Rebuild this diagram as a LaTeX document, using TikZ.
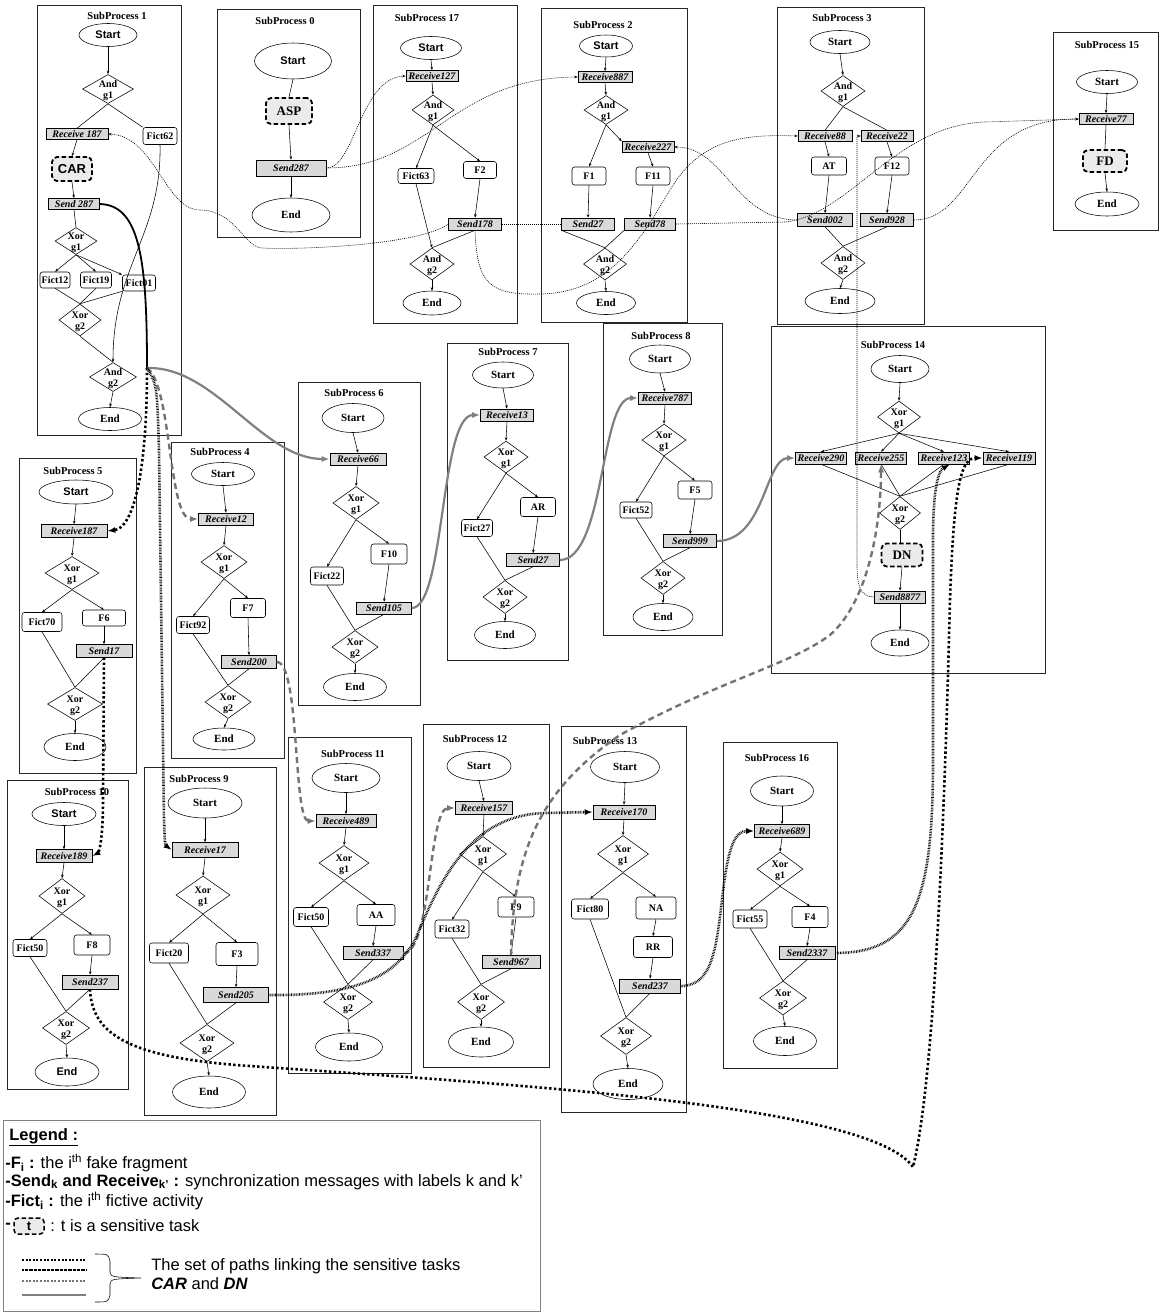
\documentclass[tikz,border=0pt]{standalone}
\usepackage{fontspec}
\setmainfont{Liberation Serif}
\setsansfont{Liberation Sans}
\usetikzlibrary{shapes.geometric,arrows.meta}

\tikzset{
  spbox/.style={draw=black!85,line width=0.7pt},
  sptitle/.style={font=\bfseries\fontsize{10.5}{12}\selectfont,inner sep=0pt},
  sz/.style 2 args={minimum width=#1pt,minimum height=#2pt},
  ev/.style={ellipse,draw,inner sep=0pt,fill=white,font=\bfseries\fontsize{11}{12}\selectfont},
  evsf/.style={ev,font=\sffamily\bfseries\fontsize{11}{12}\selectfont},
  gw/.style={diamond,draw,inner sep=0pt,fill=white},
  gwtxt/.style={align=center,inner sep=0pt,yshift=-2pt,font=\bfseries\fontsize{10}{11}\selectfont},
  task/.style={draw,rounded corners=2.5pt,inner sep=0pt,fill=white,font=\bfseries\fontsize{10}{12}\selectfont},
  msg/.style={draw,fill=black!15,inner sep=0pt,font=\bfseries\itshape\fontsize{10}{12}\selectfont},
  sens/.style={draw,line width=1.8pt,dash pattern=on 4.5pt off 2.5pt,rounded corners=5pt,fill=black!8,inner sep=0pt,font=\bfseries\fontsize{13}{14}\selectfont},
  msgline/.style={line width=0.6pt,dash pattern=on 1pt off 1pt},
  carline/.style={line width=1.8pt},
  greypath/.style={line width=2.2pt,draw=black!50,-{Latex[length=8pt,width=6pt]}},
  dashpath/.style={line width=2.4pt,draw=black!55,dash pattern=on 6pt off 4pt,-{Latex[length=8pt,width=6pt]}},
  dotpath/.style={line width=2.6pt,dash pattern=on 2.4pt off 2.4pt,-{Latex[length=8pt,width=6pt]}},
  railpath/.style={line width=2.6pt,dash pattern=on 0.7pt off 0.9pt,-{Latex[length=8pt,width=6pt]}},
  legtxt/.style={font=\sffamily\fontsize{16.5}{18}\selectfont,anchor=west,inner sep=0pt}
}

\begin{document}
\begin{tikzpicture}[x=1pt,y=-1pt,line width=0.55pt,>={Stealth[length=3.5pt,width=2.6pt]}]
  \useasboundingbox (0,0) rectangle (1160,1312);

  % SubProcess 1
  \draw [spbox] (37,5) rectangle (181,435);
  \node [sptitle] (t1) at (117,16) {SubProcess 1};
  \node [evsf, sz={58}{23}] (p1s) at (108,35) {Start};
  \node [gw, sz={51}{29}, label={[gwtxt]center:And\\g1}] (p1a1) at (108,89) {};
  \node [msg, sz={62}{11}] (p1r) at (77,134) {Receive 187};
  \node [task, sz={34}{17}] (p1f62) at (160,136) {Fict62};
  \node [sens, sz={40}{24}, font=\sffamily\bfseries\fontsize{13}{14}\selectfont] (p1car) at (72,169) {CAR};
  \node [msg, sz={51}{11}] (p1snd) at (74,204) {Send 287};
  \node [gw, sz={42}{27}, label={[gwtxt]center:Xor\\g1}] (p1x1) at (76,241) {};
  \node [task, sz={30}{16}] (p1f12) at (55,280) {Fict12};
  \node [task, sz={31}{16}] (p1f19) at (96,280) {Fict19};
  \node [task, sz={33}{16}] (p1f01) at (139,283) {Fict01};
  \node [gw, sz={42}{32}, label={[gwtxt]center:Xor\\g2}] (p1x2) at (80,320) {};
  \node [gw, sz={47}{29}, label={[gwtxt]center:And\\g2}] (p1a2) at (113,377) {};
  \node [ev, sz={63}{23}] (p1e) at (110,419) {End};

  \draw [->] (p1s.south) -- (p1a1.north);
  \draw (p1a1.south) -- (p1r.north);
  \draw (p1a1.south) -- (p1f62.north west);
  \draw [->] (p1r.south) -- (p1car.north);
  \draw [->] (p1car.south) -- (p1snd.north);
  \draw (p1snd.south) -- (p1x1.north);
  \draw [->] (p1x1.south) -- (p1f12.north);
  \draw [->] (p1x1.south) -- (p1f19.north);
  \draw [->] (p1x1.south) -- (p1f01.north west);
  \draw (p1f12.south) -- (p1x2.north);
  \draw (p1f19.south) -- (p1x2.north);
  \draw (p1f01.south west) -- (p1x2.north);
  \draw (p1x2.south) -- (p1a2.north);
  \draw [->] (p1f62.south) .. controls (162,235) and (113,265) .. (p1a2.north);
  \draw [->] (p1a2.south) -- (p1e.north);

  % SubProcess 0
  \draw [spbox] (217,9) rectangle (360,237);
  \node [sptitle] (t0) at (285,21) {SubProcess 0};
  \node [evsf, sz={77}{36}] (p0s) at (293,61) {Start};
  \node [sens, sz={46}{26}] (p0asp) at (289,111) {ASP};
  \node [msg, sz={70}{16}] (p0snd) at (291,168) {Send287};
  \node [ev, sz={78}{34}] (p0e) at (291,215) {End};

  \draw (p0s.south) -- (p0asp.north);
  \draw [->] (p0asp.south) -- (p0snd.north);
  \draw [->] (p0snd.south) -- (p0e.north);

  % SubProcess 17
  \draw [spbox] (373,5) rectangle (517,323);
  \node [sptitle] (t17) at (427,18) {SubProcess 17};
  \node [evsf, sz={61}{23}] (p17s) at (431,48) {Start};
  \node [msg, sz={52}{11}] (p17r) at (432,76) {Receive127};
  \node [gw, sz={42}{30}, label={[gwtxt]center:And\\g1}] (p17a1) at (433,110) {};
  \node [task, sz={36}{15}] (p17f63) at (416,176) {Fict63};
  \node [task, sz={33}{17}] (p17f2) at (480,170) {F2};
  \node [msg, sz={53}{12}] (p17snd) at (475,224) {Send178};
  \node [gw, sz={44}{32}, label={[gwtxt]center:And\\g2}] (p17a2) at (432,264) {};
  \node [ev, sz={58}{24}] (p17e) at (432,303) {End};

  \draw [->] (p17s.south) -- (p17r.north);
  \draw [->] (p17r.south) -- (p17a1.north);
  \draw [->] (p17a1.south) -- (p17f63.north);
  \draw [->] (p17a1.south) -- (p17f2.north);
  \draw [->] (p17f2.south) -- (p17snd.north);
  \draw [->] (p17f63.south) -- (p17a2.north);
  \draw (p17snd.south) -- (p17a2.north);
  \draw [->] (p17a2.south) -- (p17e.north);

  % SubProcess 2
  \draw [spbox] (541,8) rectangle (687,322);
  \node [sptitle] (t2) at (603,25) {SubProcess 2};
  \node [evsf, sz={53}{22}] (p2s) at (606,46) {Start};
  \node [msg, sz={54}{11}] (p2r) at (605,77) {Receive887};
  \node [gw, sz={44}{29}, label={[gwtxt]center:And\\g1}] (p2a1) at (606,110) {};
  \node [msg, sz={52}{11}] (p2r227) at (648,147) {Receive227};
  \node [task, sz={34}{18}] (p2f1) at (589,176) {F1};
  \node [task, sz={34}{18}] (p2f11) at (653,176) {F11};
  \node [msg, sz={53}{12}] (p2s27) at (588,224) {Send27};
  \node [msg, sz={51}{12}] (p2s78) at (650,224) {Send78};
  \node [gw, sz={43}{32}, label={[gwtxt]center:And\\g2}] (p2a2) at (605,264) {};
  \node [ev, sz={59}{23}] (p2e) at (606,303) {End};

  \draw [->] (p2s.south) -- (p2r.north);
  \draw [->] (p2r.south) -- (p2a1.north);
  \draw [->] (p2a1.south) -- (p2f1.north);
  \draw [->] (p2a1.south) -- (p2r227.north west);
  \draw [->] (p2r227.south) -- (p2f11.north);
  \draw [->] (p2f1.south) -- (p2s27.north);
  \draw [->] (p2f11.south) -- (p2s78.north);
  \draw (p2s27.south west) -- (p2a2.north);
  \draw (p2s78.south west) -- (p2a2.north);
  \draw [->] (p2a2.south) -- (p2e.north);

  % SubProcess 3
  \draw [spbox] (777,7) rectangle (924,324);
  \node [sptitle] (t3) at (842,18) {SubProcess 3};
  \node [ev, sz={60}{23}] (p3s) at (840,42) {Start};
  \node [gw, sz={44}{31}, label={[gwtxt]center:And\\g1}] (p3a1) at (843,91) {};
  \node [msg, sz={54}{11}] (p3r88) at (825,136) {Receive88};
  \node [msg, sz={52}{11}] (p3r22) at (887,136) {Receive22};
  \node [task, sz={35}{18}] (p3at) at (829,166) {AT};
  \node [task, sz={34}{18}] (p3f12) at (892,166) {F12};
  \node [msg, sz={55}{13}] (p3s002) at (825,220) {Send002};
  \node [msg, sz={53}{13}] (p3s928) at (887,220) {Send928};
  \node [gw, sz={44}{33}, label={[gwtxt]center:And\\g2}] (p3a2) at (843,263) {};
  \node [ev, sz={70}{25}] (p3e) at (840,301) {End};

  \draw [->] (p3s.south) -- (p3a1.north);
  \draw (p3a1.south) -- (p3r88.north);
  \draw (p3a1.south) -- (p3r22.north);
  \draw [->] (p3r88.south) -- (p3at.north);
  \draw [->] (p3r22.south) -- (p3f12.north);
  \draw [->] (p3at.south) -- (p3s002.north);
  \draw [->] (p3f12.south) -- (p3s928.north);
  \draw (p3s002.south) -- (p3a2.north);
  \draw (p3s928.south) -- (p3a2.north);
  \draw [->] (p3a2.south) -- (p3e.north);

  % SubProcess 15
  \draw [spbox] (1053,32) rectangle (1158,230);
  \node [sptitle] (t15) at (1107,45) {SubProcess 15};
  \node [ev, sz={61}{23}] (p15s) at (1107,82) {Start};
  \node [msg, sz={54}{11}] (p15r) at (1106,119) {Receive77};
  \node [sens, sz={44}{22}] (p15fd) at (1105,161) {FD};
  \node [ev, sz={64}{24}] (p15e) at (1107,204) {End};

  \draw [->] (p15s.south) -- (p15r.north);
  \draw (p15r.south) -- (p15fd.north);
  \draw [->] (p15fd.south) -- (p15e.north);

  % SubProcess 5
  \draw [spbox] (19,458) rectangle (136,773);
  \node [sptitle] (t5) at (73,471) {SubProcess 5};
  \node [evsf, sz={74}{24}] (p5s) at (76,492) {Start};
  \node [msg, sz={66}{13}] (p5r) at (74,531) {Receive187};
  \node [gw, sz={54}{33}, label={[gwtxt]center:Xor\\g1}] (p5x1) at (72,573) {};
  \node [task, sz={40}{19}] (p5f70) at (42,622) {Fict70};
  \node [task, sz={43}{16}] (p5f6) at (104,618) {F6};
  \node [msg, sz={56}{13}] (p5snd) at (104,651) {Send17};
  \node [gw, sz={55}{33}, label={[gwtxt]center:Xor\\g2}] (p5x2) at (75,704) {};
  \node [ev, sz={62}{27}] (p5e) at (75,747) {End};

  \draw [->] (p5s.south) -- (p5r.north);
  \draw [->] (p5r.south) -- (p5x1.north);
  \draw [->] (p5x1.south) -- (p5f70.north);
  \draw [->] (p5x1.south) -- (p5f6.north);
  \draw [->] (p5f6.south) -- (p5snd.north);
  \draw (p5f70.south) -- (p5x2.north);
  \draw (p5snd.south) -- (p5x2.north);
  \draw [->] (p5x2.south) -- (p5e.north);

  % SubProcess 4
  \draw [spbox] (171,442) rectangle (284,758);
  \node [sptitle] (t4) at (220,452) {SubProcess 4};
  \node [ev, sz={63}{23}] (p4s) at (223,474) {Start};
  \node [msg, sz={55}{12}] (p4r) at (226,519) {Receive12};
  \node [gw, sz={46}{33}, label={[gwtxt]center:Xor\\g1}] (p4x1) at (224,562) {};
  \node [task, sz={33}{17}] (p4f92) at (193,625) {Fict92};
  \node [task, sz={35}{19}] (p4f7) at (248,608) {F7};
  \node [msg, sz={55}{13}] (p4snd) at (249,662) {Send200};
  \node [gw, sz={46}{33}, label={[gwtxt]center:Xor\\g2}] (p4x2) at (228,702) {};
  \node [ev, sz={62}{22}] (p4e) at (224,739) {End};

  \draw [->] (p4s.south) -- (p4r.north);
  \draw [->] (p4r.south) -- (p4x1.north);
  \draw [->] (p4x1.south) -- (p4f92.north);
  \draw [->] (p4x1.south) -- (p4f7.north);
  \draw [->] (p4f7.south) -- (p4snd.north);
  \draw (p4f92.south) -- (p4x2.north);
  \draw (p4snd.south) -- (p4x2.north);
  \draw [->] (p4x2.south) -- (p4e.north);

  % SubProcess 6
  \draw [spbox] (298,382) rectangle (420,705);
  \node [sptitle] (t6) at (354,393) {SubProcess 6};
  \node [ev, sz={62}{29}] (p6s) at (353,418) {Start};
  \node [msg, sz={56}{12}] (p6r) at (358,459) {Receive66};
  \node [gw, sz={46}{33}, label={[gwtxt]center:Xor\\g1}] (p6x1) at (356,503) {};
  \node [task, sz={36}{20}] (p6f10) at (389,554) {F10};
  \node [task, sz={33}{18}] (p6f22) at (327,576) {Fict22};
  \node [msg, sz={55}{12}] (p6snd) at (384,608) {Send105};
  \node [gw, sz={46}{33}, label={[gwtxt]center:Xor\\g2}] (p6x2) at (355,647) {};
  \node [ev, sz={63}{27}] (p6e) at (355,687) {End};

  \draw [->] (p6s.south) -- (p6r.north);
  \draw [->] (p6r.south) -- (p6x1.north);
  \draw [->] (p6x1.south) -- (p6f22.north);
  \draw [->] (p6x1.south) -- (p6f10.north);
  \draw [->] (p6f10.south) -- (p6snd.north);
  \draw (p6f22.south) -- (p6x2.north);
  \draw (p6snd.south) -- (p6x2.north);
  \draw [->] (p6x2.south) -- (p6e.north);

  % SubProcess 7
  \draw [spbox] (447,343) rectangle (568,660);
  \node [sptitle] (t7) at (508,352) {SubProcess 7};
  \node [ev, sz={61}{26}] (p7s) at (503,375) {Start};
  \node [msg, sz={53}{12}] (p7r) at (507,415) {Receive13};
  \node [gw, sz={44}{32}, label={[gwtxt]center:Xor\\g1}] (p7x1) at (506,457) {};
  \node [task, sz={35}{19}] (p7ar) at (538,507) {AR};
  \node [task, sz={31}{17}] (p7f27) at (477,528) {Fict27};
  \node [msg, sz={53}{13}] (p7snd) at (533,560) {Send27};
  \node [gw, sz={44}{33}, label={[gwtxt]center:Xor\\g2}] (p7x2) at (505,597) {};
  \node [ev, sz={61}{27}] (p7e) at (505,635) {End};

  \draw [->] (p7s.south) -- (p7r.north);
  \draw [->] (p7r.south) -- (p7x1.north);
  \draw [->] (p7x1.south) -- (p7f27.north);
  \draw [->] (p7x1.south) -- (p7ar.north);
  \draw [->] (p7ar.south) -- (p7snd.north);
  \draw (p7f27.south) -- (p7x2.north);
  \draw (p7snd.south) -- (p7x2.north);
  \draw [->] (p7x2.south) -- (p7e.north);

  % SubProcess 8
  \draw [spbox] (603,323) rectangle (722,635);
  \node [sptitle] (t8) at (661,336) {SubProcess 8};
  \node [ev, sz={61}{28}] (p8s) at (660,359) {Start};
  \node [msg, sz={53}{12}] (p8r) at (665,398) {Receive787};
  \node [gw, sz={44}{32}, label={[gwtxt]center:Xor\\g1}] (p8x1) at (664,440) {};
  \node [task, sz={34}{18}] (p8f5) at (695,490) {F5};
  \node [task, sz={32}{16}] (p8f52) at (636,510) {Fict52};
  \node [msg, sz={53}{13}] (p8snd) at (690,541) {Send999};
  \node [gw, sz={44}{33}, label={[gwtxt]center:Xor\\g2}] (p8x2) at (663,578) {};
  \node [ev, sz={60}{27}] (p8e) at (663,617) {End};

  \draw [->] (p8s.south) -- (p8r.north);
  \draw [->] (p8r.south) -- (p8x1.north);
  \draw [->] (p8x1.south) -- (p8f52.north);
  \draw [->] (p8x1.south) -- (p8f5.north);
  \draw [->] (p8f5.south) -- (p8snd.north);
  \draw (p8f52.south) -- (p8x2.north);
  \draw (p8snd.south) -- (p8x2.north);
  \draw [->] (p8x2.south) -- (p8e.north);

  % SubProcess 14
  \draw [spbox] (771,326) rectangle (1045,673);
  \node [sptitle] (t14) at (893,345) {SubProcess 14};
  \node [ev, sz={58}{27}] (p14s) at (900,369) {Start};
  \node [gw, sz={43}{32}, label={[gwtxt]center:Xor\\g1}] (p14x1) at (899,417) {};
  \node [msg, sz={51}{12}] (p14r290) at (821,458) {Receive290};
  \node [msg, sz={51}{12}] (p14r255) at (881,458) {Receive255};
  \node [msg, sz={51}{12}] (p14r123) at (944,458) {Receive123};
  \node [msg, sz={52}{12}] (p14r119) at (1009,458) {Receive119};
  \node [gw, sz={41}{33}, label={[gwtxt]center:Xor\\g2}] (p14x2) at (900,513) {};
  \node [sens, sz={41}{23}] (p14dn) at (902,555) {DN};
  \node [msg, sz={51}{12}] (p14snd) at (900,597) {Send8877};
  \node [ev, sz={58}{26}] (p14e) at (900,643) {End};

  \draw [->] (p14s.south) -- (p14x1.north);
  \draw [->] (p14x1.south) -- (p14r290.north);
  \draw [->] (p14x1.south) -- (p14r255.north);
  \draw [->] (p14x1.south) -- (p14r123.north);
  \draw [->] (p14x1.south) -- (p14r119.north);
  \draw (p14r290.south) -- (p14x2.north);
  \draw (p14r255.south) -- (p14x2.north);
  \draw (p14r123.south) -- (p14x2.north);
  \draw (p14r119.south) -- (p14x2.north);
  \draw (p14x2.south) -- (p14dn.north -| p14x2.south);
  \draw [->] (p14dn.south) -- (p14snd.north);
  \draw [->] (p14snd.south) -- (p14e.north);

  % SubProcess 10
  \draw [spbox] (7,780) rectangle (128,1089);
  \node [sptitle] (t10) at (77,792) {SubProcess 10};
  \node [evsf, sz={64}{23}] (p10s) at (64,814) {Start};
  \node [msg, sz={56}{13}] (p10r) at (64,856) {Receive189};
  \node [gw, sz={46}{35}, label={[gwtxt]center:Xor\\g1}] (p10x1) at (62,896) {};
  \node [task, sz={34}{17}] (p10f50) at (30,948) {Fict50};
  \node [task, sz={36}{20}] (p10f8) at (92,945) {F8};
  \node [msg, sz={56}{14}] (p10snd) at (90,982) {Send237};
  \node [gw, sz={47}{33}, label={[gwtxt]center:Xor\\g2}] (p10x2) at (66,1028) {};
  \node [evsf, sz={64}{28}] (p10e) at (67,1072) {End};

  \draw [->] (p10s.south) -- (p10r.north);
  \draw [->] (p10r.south) -- (p10x1.north);
  \draw [->] (p10x1.south) -- (p10f50.north);
  \draw [->] (p10x1.south) -- (p10f8.north);
  \draw [->] (p10f8.south) -- (p10snd.north);
  \draw (p10f50.south) -- (p10x2.north);
  \draw (p10snd.south) -- (p10x2.north);
  \draw [->] (p10x2.south) -- (p10e.north);

  % SubProcess 9
  \draw [spbox] (144,767) rectangle (276,1115);
  \node [sptitle] (t9) at (199,779) {SubProcess 9};
  \node [ev, sz={74}{30}] (p9s) at (205,803) {Start};
  \node [msg, sz={66}{15}] (p9r) at (205,850) {Receive17};
  \node [gw, sz={54}{38}, label={[gwtxt]center:Xor\\g1}] (p9x1) at (203,895) {};
  \node [task, sz={39}{20}] (p9f20) at (169,953) {Fict20};
  \node [task, sz={42}{23}] (p9f3) at (237,954) {F3};
  \node [msg, sz={65}{15}] (p9snd) at (236,995) {Send205};
  \node [gw, sz={54}{37}, label={[gwtxt]center:Xor\\g2}] (p9x2) at (207,1043) {};
  \node [ev, sz={73}{32}] (p9e) at (209,1092) {End};

  \draw [->] (p9s.south) -- (p9r.north);
  \draw [->] (p9r.south) -- (p9x1.north);
  \draw [->] (p9x1.south) -- (p9f20.north);
  \draw [->] (p9x1.south) -- (p9f3.north);
  \draw [->] (p9f3.south) -- (p9snd.north);
  \draw (p9f20.south) -- (p9x2.north);
  \draw (p9snd.south) -- (p9x2.north);
  \draw [->] (p9x2.south) -- (p9e.north);

  % SubProcess 11
  \draw [spbox] (288,737) rectangle (411,1073);
  \node [sptitle] (t11) at (353,754) {SubProcess 11};
  \node [ev, sz={68}{29}] (p11s) at (346,778) {Start};
  \node [msg, sz={60}{13}] (p11r) at (346,821) {Receive489};
  \node [gw, sz={50}{35}, label={[gwtxt]center:Xor\\g1}] (p11x1) at (344,863) {};
  \node [task, sz={35}{19}] (p11f50) at (311,917) {Fict50};
  \node [task, sz={38}{21}] (p11aa) at (376,915) {AA};
  \node [msg, sz={60}{13}] (p11snd) at (373,953) {Send337};
  \node [gw, sz={49}{35}, label={[gwtxt]center:Xor\\g2}] (p11x2) at (348,1002) {};
  \node [ev, sz={67}{28}] (p11e) at (349,1047) {End};

  \draw [->] (p11s.south) -- (p11r.north);
  \draw [->] (p11r.south) -- (p11x1.north);
  \draw [->] (p11x1.south) -- (p11f50.north);
  \draw [->] (p11x1.south) -- (p11aa.north);
  \draw [->] (p11aa.south) -- (p11snd.north);
  \draw (p11f50.south) -- (p11x2.north);
  \draw (p11snd.south) -- (p11x2.north);
  \draw [->] (p11x2.south) -- (p11e.north);

  % SubProcess 12
  \draw [spbox] (423,724) rectangle (549,1067);
  \node [sptitle] (t12) at (475,739) {SubProcess 12};
  \node [ev, sz={64}{29}] (p12s) at (479,766) {Start};
  \node [msg, sz={57}{13}] (p12r) at (484,808) {Receive157};
  \node [gw, sz={47}{35}, label={[gwtxt]center:Xor\\g1}] (p12x1) at (483,854) {};
  \node [task, sz={36}{20}] (p12f9) at (516,907) {F9};
  \node [task, sz={34}{18}] (p12f32) at (452,929) {Fict32};
  \node [msg, sz={58}{13}] (p12snd) at (511,962) {Send967};
  \node [gw, sz={47}{35}, label={[gwtxt]center:Xor\\g2}] (p12x2) at (481,1002) {};
  \node [ev, sz={65}{30}] (p12e) at (481,1042) {End};

  \draw [->] (p12s.south) -- (p12r.north);
  \draw [->] (p12r.south) -- (p12x1.north);
  \draw [->] (p12x1.south) -- (p12f32.north);
  \draw [->] (p12x1.south) -- (p12f9.north);
  \draw [->] (p12f9.south) -- (p12snd.north);
  \draw (p12f32.south) -- (p12x2.north);
  \draw (p12snd.south) -- (p12x2.north);
  \draw [->] (p12x2.south) -- (p12e.north);

  % SubProcess 13
  \draw [spbox] (561,726) rectangle (686,1112);
  \node [sptitle] (t13) at (605,741) {SubProcess 13};
  \node [ev, sz={69}{31}] (p13s) at (625,767) {Start};
  \node [msg, sz={62}{14}] (p13r) at (624,812) {Receive170};
  \node [gw, sz={51}{37}, label={[gwtxt]center:Xor\\g1}] (p13x1) at (623,854) {};
  \node [task, sz={37}{20}] (p13f80) at (590,909) {Fict80};
  \node [task, sz={40}{22}] (p13na) at (656,908) {NA};
  \node [task, sz={39}{21}] (p13rr) at (653,947) {RR};
  \node [msg, sz={61}{14}] (p13snd) at (650,986) {Send237};
  \node [gw, sz={51}{37}, label={[gwtxt]center:Xor\\g2}] (p13x2) at (626,1036) {};
  \node [ev, sz={70}{31}] (p13e) at (628,1084) {End};

  \draw [->] (p13s.south) -- (p13r.north);
  \draw [->] (p13r.south) -- (p13x1.north);
  \draw [->] (p13x1.south) -- (p13f80.north);
  \draw [->] (p13x1.south) -- (p13na.north);
  \draw [->] (p13na.south) -- (p13rr.north);
  \draw [->] (p13rr.south) -- (p13snd.north);
  \draw (p13f80.south) -- (p13x2.north);
  \draw (p13snd.south) -- (p13x2.north);
  \draw [->] (p13x2.south) -- (p13e.north);

  % SubProcess 16
  \draw [spbox] (723,742) rectangle (837,1068);
  \node [sptitle] (t16) at (777,758) {SubProcess 16};
  \node [ev, sz={63}{30}] (p16s) at (782,791) {Start};
  \node [msg, sz={55}{13}] (p16r) at (782,831) {Receive689};
  \node [gw, sz={46}{34}, label={[gwtxt]center:Xor\\g1}] (p16x1) at (780,869) {};
  \node [task, sz={34}{18}] (p16f55) at (750,919) {Fict55};
  \node [task, sz={36}{21}] (p16f4) at (810,917) {F4};
  \node [msg, sz={56}{13}] (p16snd) at (807,953) {Send2337};
  \node [gw, sz={47}{34}, label={[gwtxt]center:Xor\\g2}] (p16x2) at (783,998) {};
  \node [ev, sz={63}{29}] (p16e) at (785,1041) {End};

  \draw [->] (p16s.south) -- (p16r.north);
  \draw [->] (p16r.south) -- (p16x1.north);
  \draw [->] (p16x1.south) -- (p16f55.north);
  \draw [->] (p16x1.south) -- (p16f4.north);
  \draw [->] (p16f4.south) -- (p16snd.north);
  \draw (p16f55.south) -- (p16x2.north);
  \draw (p16snd.south) -- (p16x2.north);
  \draw [->] (p16x2.south) -- (p16e.north);

  % messages between the top subprocesses
  \draw [msgline,->] (p0snd.east) .. controls (355,168) and (360,78) .. (p17r.west);
  \draw [msgline,->] (p0snd.east) .. controls (430,168) and (450,78) .. (p2r.west);
  \draw [msgline,->] (p17snd.west) .. controls (420,245) and (300,250) .. (262,248)
    .. controls (245,248) and (235,210) .. (200,210) .. controls (165,210) and (155,136) .. (p1r.east);
  \draw [msgline] (p17snd.east) -- (p2s27.west);
  \draw [msgline,->] (p17snd.south) .. controls (477,285) and (490,295) .. (540,294)
    .. controls (610,293) and (640,240) .. (670,190) .. controls (700,140) and (740,134) .. (p3r88.west);
  \draw [msgline,->] (p3s002.west) .. controls (735,220) and (725,147) .. (p2r227.east);
  \draw [msgline,->] (p2s78.east) -- (785,222) .. controls (850,215) and (895,125) .. (985,122) -- (p15r.west);
  \draw [msgline,->] (p3s928.east) .. controls (975,220) and (970,118) .. (p15r.west);
  \draw [msgline,->] (p14snd.west) .. controls (860,597) and (857,585) .. (857,565) |- (p3r22.west);

  % paths linking CAR and DN
  \coordinate (jn) at (147,368);
  \draw [carline] (p1snd.east) .. controls (140,205) and (147,260) .. (jn);
  \draw [greypath] (jn) .. controls (215,366) and (262,459) .. (p6r.west);
  \draw [greypath] (p6snd.east) .. controls (445,608) and (440,415) .. (p7r.west);
  \draw [greypath] (p7snd.east) .. controls (605,560) and (600,398) .. (p8r.west);
  \draw [greypath] (p8snd.east) .. controls (765,541) and (765,458) .. (p14r290.west);

  \draw [dotpath] (jn) .. controls (147,480) and (132,528) .. (p5r.east);
  \draw [dotpath] (p5snd.south) -- (103,800) .. controls (103,845) and (98,853) .. (p10r.east);
  \draw [dotpath] (p10snd.south) .. controls (92,1035) and (130,1058) .. (250,1066)
    .. controls (520,1085) and (870,1105) .. (913,1167) .. controls (935,1080) and (945,800) .. (950,600)
    .. controls (954,480) and (962,458) .. (p14r119.west);

  \draw [dashpath] (jn) .. controls (172,385) and (168,519) .. (p4r.west);
  \draw [dashpath] (p4snd.east) .. controls (300,662) and (293,821) .. (p11r.west);
  \draw [dashpath] (p11snd.east) .. controls (432,953) and (428,808) .. (p12r.west);
  \draw [dashpath] (p12snd.north) .. controls (513,850) and (540,790) .. (620,735)
    .. controls (720,680) and (790,665) .. (830,635) .. controls (870,600) and (881,520) .. (p14r255.south);

  \draw [railpath] (jn) .. controls (157,385) .. (159,450) -- (164,820) .. controls (165,845) .. (p9r.west);
  \draw [railpath] (p9snd.east) .. controls (360,996) and (395,975) .. (415,940)
    .. controls (440,880) and (470,815) .. (545,813) -- (p13r.west);
  \draw [railpath] (p13snd.east) .. controls (712,986) and (716,950) .. (722,900)
    .. controls (728,845) and (735,831) .. (p16r.west);
  \draw [railpath] (p16snd.east) .. controls (915,953) and (933,900) .. (933,760) -- (933,540)
    .. controls (933,480) and (940,470) .. ([xshift=6pt]p14r123.south);

  % legend
  \draw [draw=black!50] (3,1120) rectangle (540,1311);
  \node [legtxt] (lg0) at (9,1137) {\textbf{\underline{Legend :}}};
  \node [legtxt] (lg1) at (5,1163) {\textbf{-F\textsubscript{i} :} the i\textsuperscript{th} fake fragment};
  \node [legtxt] (lg2) at (5,1182) {\textbf{-Send\textsubscript{k} and Receive\textsubscript{k'} :} synchronization messages with labels k and k'};
  \node [legtxt] (lg3) at (5,1201) {\textbf{-Fict\textsubscript{i} :} the i\textsuperscript{th} fictive activity};
  \node [legtxt] (lg4) at (5,1226) {\textbf{-}};
  \node [sens, sz={30}{16}, line width=1.5pt, rounded corners=4pt, font=\sffamily\bfseries\fontsize{13}{14}\selectfont] (lgt) at (29,1226) {t};
  \node [legtxt] (lg5) at (50,1226) {: t is a sensitive task};

  \coordinate (la1) at (22,1260);
  \coordinate (lb1) at (86,1260);
  \coordinate (la2) at (22,1270);
  \coordinate (lb2) at (86,1270);
  \coordinate (la3) at (22,1281);
  \coordinate (lb3) at (86,1281);
  \coordinate (la4) at (22,1295);
  \coordinate (lb4) at (86,1295);
  \draw [line width=2pt, dash pattern=on 2pt off 1.6pt] (la1) -- (lb1);
  \draw [line width=1.4pt, dash pattern=on 0.6pt off 0.7pt] (la2) -- (lb2);
  \draw [line width=1.8pt, draw=black!55, dash pattern=on 2pt off 1.6pt] (la3) -- (lb3);
  \draw [line width=2.6pt, draw=black!50] (la4) -- (lb4);
  \draw (95,1254) .. controls (108,1254) .. (110,1261) -- (110,1272) .. controls (111,1277) .. (141,1278)
    .. controls (111,1279) .. (110,1284) -- (110,1295) .. controls (108,1302) .. (95,1302);
  \node [legtxt] (lg6) at (151,1266) {The set of paths linking the sensitive tasks};
  \node [legtxt] (lg7) at (151,1284) {\textbf{\textit{CAR}} and \textbf{\textit{DN}}};
\end{tikzpicture}
\end{document}
